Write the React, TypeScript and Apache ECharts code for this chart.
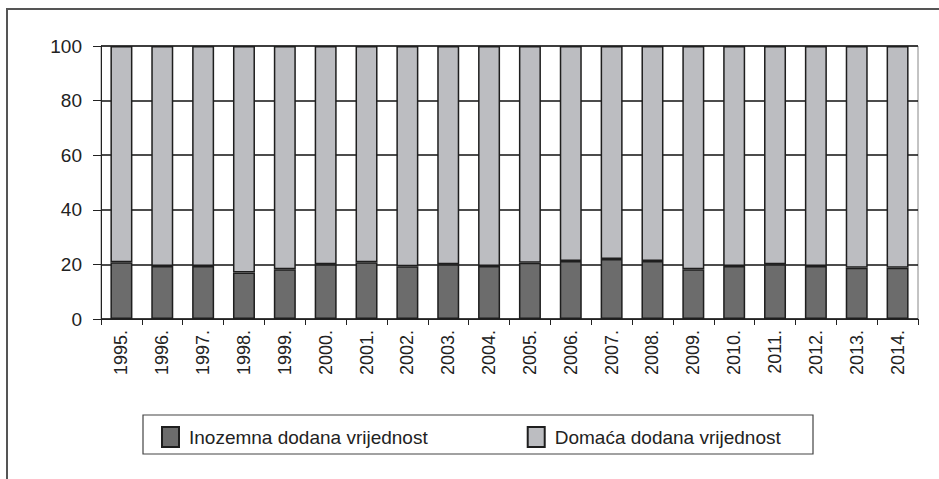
import React, { useEffect, useRef } from "react";
import * as echarts from "echarts";

const years = ["1995.", "1996.", "1997.", "1998.", "1999.", "2000.", "2001.", "2002.", "2003.", "2004.", "2005.", "2006.", "2007.", "2008.", "2009.", "2010.", "2011.", "2012.", "2013.", "2014."];
const foreignVA = [20.8, 19.4, 19.4, 17.0, 18.2, 20.1, 20.8, 19.3, 20.1, 19.4, 20.6, 21.2, 22.0, 21.2, 18.2, 19.4, 20.1, 19.4, 18.8, 18.8];
const domesticVA = [79.2, 80.6, 80.6, 83.0, 81.8, 79.9, 79.2, 80.7, 79.9, 80.6, 79.4, 78.8, 78.0, 78.8, 81.8, 80.6, 79.9, 80.6, 81.2, 81.2];
const seriesNames = ["Inozemna dodana vrijednost", "Domaća dodana vrijednost"];
const yTicks = { min: 0, max: 100, interval: 20 };

const FONT = "'Liberation Sans', Arial, sans-serif";

export default function App() {
  const ref = useRef<HTMLDivElement>(null);
  useEffect(() => {
    if (!ref.current) return;
    const chart = echarts.init(ref.current, undefined, { renderer: "svg" });
    chart.setOption({
      animation: false,
      backgroundColor: "#fff",
      textStyle: { fontFamily: FONT },
      grid: {
        left: 101, right: 21, top: 46, bottom: 160,
        show: true, borderColor: "#888", borderWidth: 1, backgroundColor: "transparent",
      },
      legend: {
        left: 156, top: 421,
        itemWidth: 17, itemHeight: 20, itemGap: 99,
        icon: "rect",
        textStyle: { fontSize: 19, color: "#222", fontFamily: FONT, padding: [0, 0, 0, 5] },
        data: seriesNames,
      },
      xAxis: {
        type: "category",
        data: years,
        axisLine: { lineStyle: { color: "#222", width: 1 } },
        axisTick: { show: true, length: 6, lineStyle: { color: "#222" } },
        axisLabel: { rotate: 90, fontSize: 18, color: "#222", margin: 11, fontFamily: FONT },
      },
      yAxis: {
        type: "value",
        min: yTicks.min, max: yTicks.max, interval: yTicks.interval,
        axisLine: { show: true, lineStyle: { color: "#222", width: 1 } },
        axisTick: { show: true, length: 8, lineStyle: { color: "#222" } },
        axisLabel: { fontSize: 19, color: "#222", margin: 19, fontFamily: FONT },
        splitLine: { show: true, lineStyle: { color: "#111", width: 1.5 } },
      },
      series: [
        {
          name: seriesNames[0], type: "bar", stack: "total", data: foreignVA, barWidth: 22,
          itemStyle: { color: "#6c6c6c", borderColor: "#1e1e1e", borderWidth: 1.5 },
        },
        {
          name: seriesNames[1], type: "bar", stack: "total", data: domesticVA, barWidth: 22,
          itemStyle: { color: "#bcbdc1", borderColor: "#1e1e1e", borderWidth: 1.5 },
        },
      ],
      graphic: [
        { type: "rect", shape: { x: 7, y: 9, width: 1000, height: 1000 }, style: { fill: "none", stroke: "#555", lineWidth: 2 }, silent: true },
        { type: "rect", shape: { x: 143, y: 415, width: 670, height: 39 }, style: { fill: "none", stroke: "#444", lineWidth: 1.2 }, silent: true },
      ],
    });
    return () => chart.dispose();
  }, []);
  return <div ref={ref} style={{ position: "fixed", left: 0, top: 0, width: 939, height: 479 }} />;
}
